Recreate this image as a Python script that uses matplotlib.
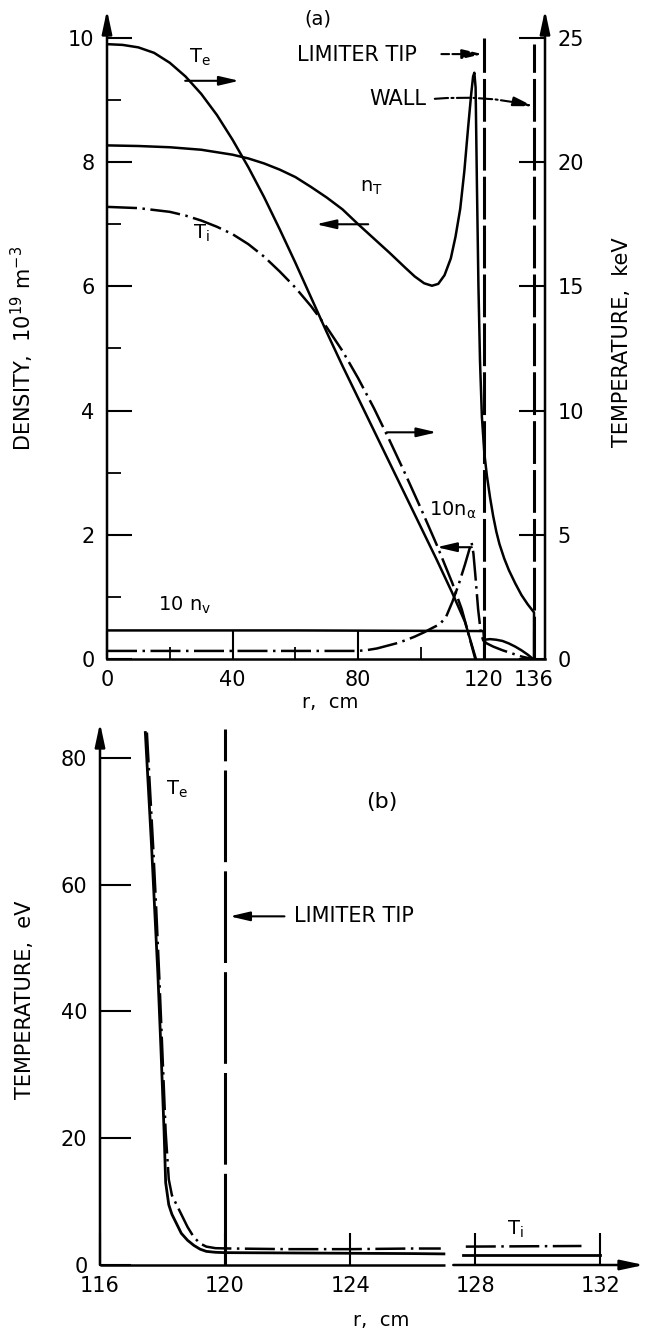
import matplotlib
matplotlib.use('Agg')
import matplotlib.pyplot as plt

plt.rcParams['font.family'] = ['DejaVu Sans']
plt.rcParams['mathtext.default'] = 'regular'

# ---- panel (a): profiles vs r (cm); densities in 1e19 m^-3, temperatures in keV ----
r_te = [0, 5, 10, 15, 20, 25, 30, 35, 40, 45, 50, 55, 60, 65, 70, 75, 80, 85, 90, 95, 100,
        105, 110, 114, 117.5]
te_kev = [24.75, 24.72, 24.62, 24.4, 24.0, 23.45, 22.75, 21.9, 20.9, 19.8, 18.6, 17.3, 15.95,
          14.55, 13.15, 11.8, 10.5, 9.2, 7.9, 6.6, 5.3, 4.0, 2.65, 1.5, 0.0]

r_ti = [0, 10, 20, 25, 30, 35, 40, 45, 50, 55, 60, 65, 70, 75, 80, 85, 90, 95, 100, 105, 110,
        113, 117.3]
ti_kev = [18.2, 18.15, 18.0, 17.85, 17.65, 17.4, 17.1, 16.7, 16.2, 15.6, 14.95, 14.2, 13.35,
          12.4, 11.3, 10.1, 8.8, 7.45, 6.05, 4.6, 3.05, 2.0, 0.0]

r_nt = [0, 10, 20, 30, 40, 45, 50, 55, 60, 65, 70, 75, 80, 85, 90, 95, 98, 101, 103.5, 105.5,
        107.5, 109.5, 111, 112.5, 113.8, 115, 116, 116.6, 117, 117.4, 117.8, 118.3, 118.8,
        119.4, 120.2, 121, 122, 123, 124, 125, 126.5, 128, 130, 132, 134, 136, 136]
n_t = [8.27, 8.26, 8.24, 8.2, 8.12, 8.06, 7.98, 7.88, 7.76, 7.6, 7.43, 7.24, 7.0, 6.77, 6.54,
       6.3, 6.16, 6.05, 6.01, 6.04, 6.18, 6.45, 6.8, 7.25, 7.85, 8.55, 9.1, 9.38, 9.44, 9.2,
       7.7, 6.0, 4.8, 3.9, 3.3, 2.95, 2.6, 2.3, 2.05, 1.85, 1.62, 1.43, 1.22, 1.03, 0.88, 0.75,
       0.0]

r_nv = [0, 60, 119.9, 120.1, 122, 124, 126, 128, 130, 132, 134, 135.7]
n_v10 = [0.46, 0.46, 0.45, 0.31, 0.32, 0.31, 0.29, 0.25, 0.2, 0.14, 0.07, 0.0]

r_na = [0, 40, 80, 83, 86, 89, 92, 95, 98, 101, 104, 106, 108, 110, 112, 114, 115.5, 116.1,
        116.7, 117.4, 118.2, 119, 119.8, 121, 123, 126, 129, 132, 135.5]
n_a10 = [0.13, 0.13, 0.13, 0.145, 0.17, 0.21, 0.25, 0.3, 0.36, 0.43, 0.51, 0.56, 0.68, 0.92,
         1.2, 1.52, 1.78, 1.88, 1.7, 1.3, 0.8, 0.45, 0.3, 0.25, 0.2, 0.14, 0.09, 0.04, 0.0]

r_limiter = 120
r_wall = 136

# ---- panel (b): edge temperatures in eV ----
rb_te1 = [117.45, 117.55, 117.65, 117.75, 117.85, 117.95, 118.05, 118.1, 118.2, 118.3, 118.4,
          118.6, 118.8, 119.0, 119.2, 119.4, 119.7, 120.0, 122, 124, 126, 127.0]
te_ev1 = [84, 75, 66, 56, 46, 34, 21, 13, 9.5, 8.0, 7.0, 5.0, 3.9, 3.1, 2.5, 2.15, 2.0, 1.95,
          1.9, 1.85, 1.8, 1.75]
rb_te2 = [127.6, 130, 132]
te_ev2 = [1.65, 1.65, 1.65]

rb_ti1 = [117.5, 117.6, 117.7, 117.8, 117.9, 118.0, 118.1, 118.2, 118.3, 118.45, 118.6, 118.8,
          119.0, 119.2, 119.4, 119.7, 120.2, 122, 124, 126, 126.9]
ti_ev1 = [84, 75, 66, 56, 45, 33, 21, 13.5, 11, 9.5, 8.0, 6.0, 4.4, 3.4, 2.9, 2.65, 2.6, 2.5,
          2.5, 2.6, 2.6]
rb_ti2 = [127.7, 131.4]
ti_ev2 = [2.9, 3.0]

W, H = 646, 1332
fig = plt.figure(figsize=(W / 100, H / 100), dpi=100)
fig.patch.set_facecolor('white')


def fx(px):
    return px / W


def fy(py):
    return 1 - py / H


def axis_arrow(a, p0, p1):
    a.annotate('', xy=p1, xytext=p0, xycoords='axes fraction', textcoords='axes fraction',
               arrowprops=dict(arrowstyle='-|>,head_length=1.4,head_width=0.3', lw=1.8,
                               color='k', shrinkA=0, shrinkB=0),
               annotation_clip=False)


def pointer(a, x0, y0, x1, y1, ls='-', rad=0.0):
    a.annotate('', xy=(x1, y1), xytext=(x0, y0),
               arrowprops=dict(arrowstyle='-|>,head_length=1.2,head_width=0.28', lw=1.5,
                               color='k', shrinkA=0, shrinkB=0, linestyle=ls,
                               connectionstyle='arc3,rad=%s' % rad))


ls_dd = (0, (12, 2.2, 1, 2.2))
ls_lim = (0, (14, 2))

# ================= panel (a) =================
ax = fig.add_axes([fx(107), fy(659), 438 / W, 649 / H])
ax.set_xlim(0, 139.5)
ax.set_ylim(0, 10.45)
axr = ax.twinx()
axr.set_ylim(0, 10.45 * 2.5)

for s in ['top', 'left', 'right']:
    ax.spines[s].set_visible(False)
for s in axr.spines.values():
    s.set_visible(False)
ax.spines['bottom'].set_linewidth(1.8)
axis_arrow(ax, (0, 0), (0, 1))
axis_arrow(ax, (1, 0), (1, 1))

ax.set_yticks(range(0, 11, 2))
ax.set_yticks([1, 3, 5, 7, 9], minor=True)
ax.set_xticks([0, 40, 80, 120, 136])
ax.set_xticks([20, 60, 100], minor=True)
ax.tick_params(axis='y', which='major', direction='in', length=18, width=1.5,
               labelsize=15, pad=9)
ax.tick_params(axis='y', which='minor', direction='in', length=10, width=1.3)
ax.tick_params(axis='x', which='major', direction='in', length=20, width=1.5,
               labelsize=15, pad=8)
ax.tick_params(axis='x', which='minor', direction='in', length=9, width=1.3)
axr.set_yticks(range(0, 26, 5))
axr.tick_params(axis='y', direction='in', length=19, width=1.5, labelsize=15, pad=9)

ax.plot(r_nt, n_t, color='k', lw=1.8)
ax.plot(r_nv, n_v10, color='k', lw=1.8)
ax.plot(r_na, n_a10, color='k', lw=1.8, linestyle=ls_dd)
axr.plot(r_te, te_kev, color='k', lw=1.8)
axr.plot(r_ti, ti_kev, color='k', lw=1.8, linestyle=ls_dd)
ax.plot([r_limiter, r_limiter], [0, 10.0], color='k', lw=2.2, linestyle=ls_lim)
ax.plot([r_wall, r_wall], [0, 9.9], color='k', lw=2.2, linestyle=ls_lim)

fs = 14
ax.text(67.3, 10.3, '(a)', fontsize=fs, ha='center', va='center')
ax.text(26.2, 9.68, 'T$_e$', fontsize=fs, ha='left', va='center')
pointer(ax, 24.9, 9.31, 42.1, 9.31)
ax.text(79.5, 9.72, 'LIMITER TIP', fontsize=15, ha='center', va='center')
pointer(ax, 106.5, 9.74, 119.6, 9.74, ls='--')
ax.text(92.5, 9.02, 'WALL', fontsize=15, ha='center', va='center')
pointer(ax, 104.4, 9.02, 135.8, 8.9, ls='-.', rad=-0.08)
ax.text(80.5, 7.6, 'n$_T$', fontsize=fs, ha='left', va='center')
pointer(ax, 83.2, 7.0, 66.6, 7.0)
ax.text(27.5, 6.85, 'T$_i$', fontsize=fs, ha='left', va='center')
pointer(ax, 89.2, 3.65, 105.0, 3.65)
ax.text(110.3, 2.4, '10n$_\\alpha$', fontsize=fs, ha='center', va='center')
pointer(ax, 116.2, 1.8, 105.0, 1.8)
ax.text(24.7, 0.87, '10 n$_v$', fontsize=fs, ha='center', va='center')

fig.text(fx(22), fy(348), 'DENSITY,  10$^{19}$ m$^{-3}$', rotation=90, fontsize=15,
         ha='center', va='center')
fig.text(fx(622), fy(342), 'TEMPERATURE,  keV', rotation=90, fontsize=15,
         ha='center', va='center')
fig.text(fx(330), fy(703), 'r,  cm', fontsize=14, ha='center', va='center')

# ================= panel (b) =================
bx = fig.add_axes([fx(100), fy(1265), 544 / W, 542 / H])
bx.set_xlim(116, 133.4)
bx.set_ylim(0, 85.5)
for s in bx.spines.values():
    s.set_visible(False)
axis_arrow(bx, (0, 0), (0, 1))
bx.plot([116, 127.02], [0, 0], color='k', lw=1.8, clip_on=False, solid_capstyle='butt')
bx.annotate('', xy=(133.4, 0), xytext=(127.3, 0),
            arrowprops=dict(arrowstyle='-|>,head_length=1.4,head_width=0.3', lw=1.8,
                            color='k', shrinkA=0, shrinkB=0), annotation_clip=False)

bx.set_yticks(range(0, 81, 20))
bx.set_xticks(range(116, 133, 4))
bx.tick_params(axis='y', direction='in', length=22, width=1.5, labelsize=15, pad=9)
bx.tick_params(axis='x', direction='in', length=23, width=1.5, labelsize=15, pad=8)

bx.plot(rb_te1, te_ev1, color='k', lw=2.0)
bx.plot(rb_te2, te_ev2, color='k', lw=2.0)
bx.plot(rb_ti1, ti_ev1, color='k', lw=1.8, linestyle=ls_dd)
bx.plot(rb_ti2, ti_ev2, color='k', lw=1.8, linestyle=ls_dd)
bx.plot([r_limiter, r_limiter], [0, 84.6], color='k', lw=2.2, linestyle=(0, (30, 3)))

bx.text(118.1, 75, 'T$_e$', fontsize=fs, ha='left', va='center')
bx.text(125.0, 73, '(b)', fontsize=16, ha='center', va='center')
bx.text(122.2, 55, 'LIMITER TIP', fontsize=15, ha='left', va='center')
pointer(bx, 121.9, 55, 120.15, 55)
bx.text(129.3, 5.6, 'T$_i$', fontsize=fs, ha='center', va='center')

fig.text(fx(25), fy(1000), 'TEMPERATURE,  eV', rotation=90, fontsize=15,
         ha='center', va='center')
fig.text(fx(381), fy(1320), 'r,  cm', fontsize=14, ha='center', va='center')

fig.savefig('out.png', dpi=100, facecolor='white')
